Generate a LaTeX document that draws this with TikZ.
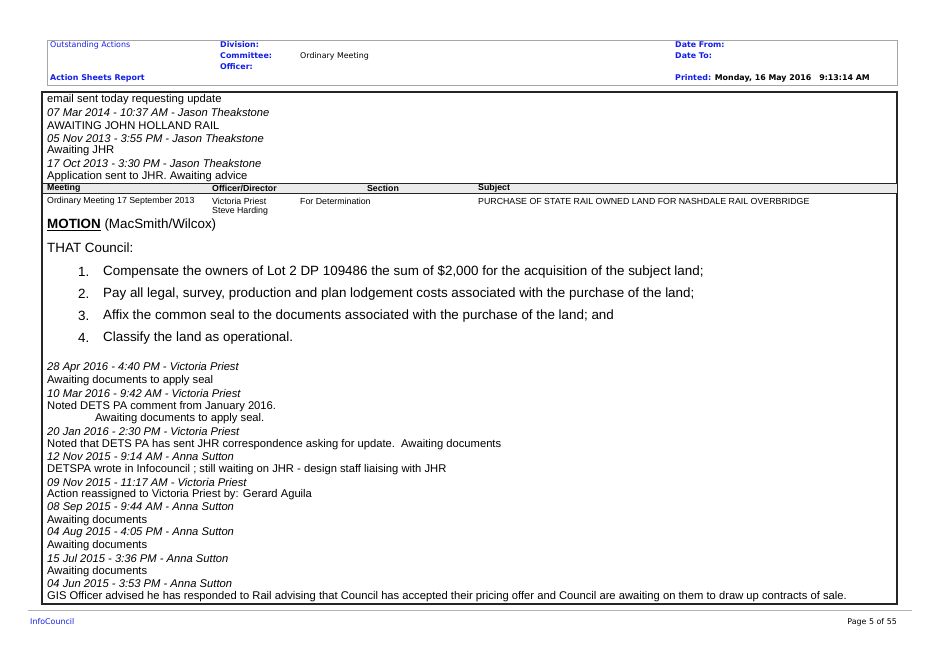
\documentclass[tikz,border=0pt]{standalone}
\usepackage{fontspec}
\setmainfont{Liberation Sans}
\newfontfamily\hdfont{DejaVu Sans}
\usepackage{tikz}
\definecolor{hblue}{RGB}{20,30,230}
\definecolor{bandgray}{RGB}{235,235,235}
\tikzset{
  txt/.style={anchor=west, inner sep=0pt, font=\fontsize{11.2}{13}\selectfont},
  itl/.style={txt, font=\fontsize{11.2}{13}\selectfont\itshape},
  hd/.style={anchor=west, inner sep=0pt, font=\hdfont\fontsize{7.9}{9}\selectfont, text=hblue},
  hdb/.style={hd, font=\hdfont\fontsize{7.9}{9}\selectfont\bfseries},
  small/.style={anchor=west, inner sep=0pt, font=\fontsize{8.8}{10}\selectfont},
  smallb/.style={small, font=\fontsize{8.8}{10}\selectfont\bfseries},
  item/.style={anchor=west, inner sep=0pt, font=\fontsize{13.4}{15}\selectfont}
}
\begin{document}
\begin{tikzpicture}[x=1pt,y=-1pt]
\useasboundingbox (0,0) rectangle (939,664);
% header
\draw[gray!70, line width=1pt] (47,40) rectangle (897,85);
\node[hd] (outst) at (50,45) {Outstanding Actions};
\node[hdb] (div) at (220,45) {Division:};
\node[hdb] (com) at (220,56) {Committee:};
\node[hdb] (off) at (220,67) {Officer:};
\node[hd, text=black] (ordm) at (300,56) {Ordinary Meeting};
\node[hdb] (asr) at (50,78) {Action Sheets Report};
\node[hdb] (dfrom) at (675,45) {Date From:};
\node[hdb] (dto) at (675,56) {Date To:};
\node[hdb] (prt) at (675,78) {Printed: \textcolor{black}{Monday, 16 May 2016\quad 9:13:14 AM}};
% main box
\draw[black!85, line width=1.3pt] (42,92) rectangle (897,604);
\foreach \t [count=\i] in {email sent today requesting update,
  AWAITING JOHN HOLLAND RAIL, Awaiting JHR, Application sent to JHR. Awaiting advice}
  \node[txt] (up\i) at (47,{100+25.4*(\i-1)}) {\t};
\foreach \t [count=\i] in {07 Mar 2014 - 10:37 AM - Jason Theakstone,
  05 Nov 2013 - 3:55 PM - Jason Theakstone, 17 Oct 2013 - 3:30 PM - Jason Theakstone}
  \node[itl] (ud\i) at (47,{112.7+25.4*(\i-1)}) {\t};
% table
\draw[black!85, fill=bandgray, line width=0.8pt] (42,183) rectangle (897,193);
\node[smallb] (hmeet) at (47,188) {Meeting};
\node[smallb] (hoff) at (212,188) {Officer/Director};
\node[smallb, anchor=center] (hsec) at (383,188) {Section};
\node[smallb] (hsub) at (478,188) {Subject};
\node[small] (rmeet) at (47,201) {Ordinary Meeting 17 September 2013};
\node[small] (roff1) at (212,201) {Victoria Priest};
\node[small] (roff2) at (212,211) {Steve Harding};
\node[small] (rsec) at (300,201) {For Determination};
\node[small] (rsub) at (478,201) {PURCHASE OF STATE RAIL OWNED LAND FOR NASHDALE RAIL OVERBRIDGE};
% motion
\node[item] (motion) at (47,225) {\textbf{\underline{MOTION}} (MacSmith/Wilcox)};
\node[item] (that) at (47,248) {THAT Council:};
\foreach \t [count=\i] in {{Compensate the owners of Lot 2 DP 109486 the sum of \$2,000 for the acquisition of the subject land;},
  {Pay all legal, survey, production and plan lodgement costs associated with the purchase of the land;},
  {Affix the common seal to the documents associated with the purchase of the land; and},
  {Classify the land as operational.}}
  {\node[item] (n\i) at (78,{272+22*(\i-1)}) {\i.};
   \node[item] (it\i) at (103,{272+22*(\i-1)}) {\t};}
% lower notes
\foreach \t [count=\i] in {28 Apr 2016 - 4:40 PM - Victoria Priest,
  10 Mar 2016 - 9:42 AM - Victoria Priest,
  20 Jan 2016 - 2:30 PM - Victoria Priest,
  12 Nov 2015 - 9:14 AM - Anna Sutton,
  09 Nov 2015 - 11:17 AM - Victoria Priest,
  08 Sep 2015 - 9:44 AM - Anna Sutton,
  04 Aug 2015 - 4:05 PM - Anna Sutton,
  15 Jul 2015 - 3:36 PM - Anna Sutton,
  04 Jun 2015 - 3:53 PM - Anna Sutton}
  \node[itl] (ld\i) at (47,{368+25.4*(\i-1)+(\i>2)*12.7}) {\t};
\node[txt] (lt1) at (47,380.7) {Awaiting documents to apply seal};
\node[txt] (lt2) at (47,406.1) {Noted DETS PA comment from January 2016.};
\node[txt] (lt2b) at (95,418.8) {Awaiting documents to apply seal.};
\foreach \t [count=\i from 3] in {Noted that DETS PA has sent JHR correspondence asking for update.\ \ Awaiting documents,
  DETSPA wrote in Infocouncil ; still waiting on JHR - design staff liaising with JHR,
  Action reassigned to Victoria Priest by: Gerard Aguila,
  Awaiting documents, Awaiting documents, Awaiting documents,
  GIS Officer advised he has responded to Rail advising that Council has accepted their pricing offer and Council are awaiting on them to draw up contracts of sale.}
  \node[txt] (lt\i) at (47,{444.2+25.4*(\i-3)}) {\t};
% footer
\draw[gray!60, line width=0.6pt] (28,610) -- (912,610);
\node[hd] (info) at (30,622) {InfoCouncil};
\node[hd, text=black, anchor=east] (page) at (897,622) {Page 5 of 55};
\end{tikzpicture}
\end{document}
